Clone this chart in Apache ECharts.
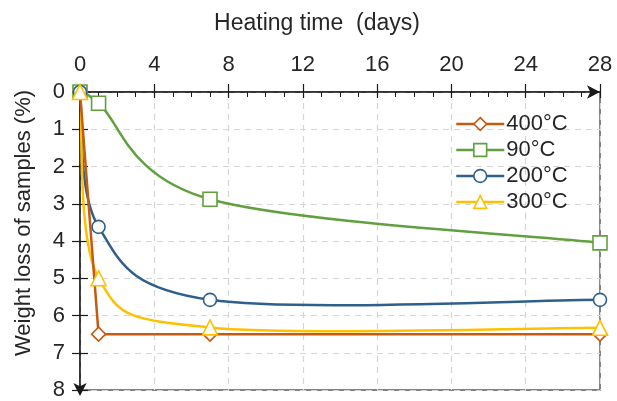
<!DOCTYPE html>
<html>
<head>
<meta charset="utf-8">
<script src="https://cdn.jsdelivr.net/npm/echarts@6/dist/echarts.min.js"></script>
<style>
  html, body { margin: 0; padding: 0; background: #fff; }
  #chart { width: 617px; height: 401px; }
</style>
</head>
<body>
<div id="chart"></div>
<script>
// Heating time (days) at which each sample was weighed
const days = [0, 1, 7, 28];
// Weight loss (%) for each heating temperature
const loss400 = [0, 6.5, 6.5, 6.5];
const loss90 = [0, 0.3, 2.88, 4.05];
const loss200 = [0, 3.62, 5.58, 5.58];
const loss300 = [0, 5.0, 6.32, 6.33];
const seriesNames = ['400°C', '90°C', '200°C', '300°C'];
const xTicks = { min: 0, max: 28, interval: 4 };
const yTicks = { min: 0, max: 8, interval: 1 };

const font = 'Liberation Sans, Arial, sans-serif';
const textColor = '#262626';
const axisColor = '#1a1a1a';
const gridColor = '#d6d6d6';

const colors = ['#c55a11', '#62a03f', '#2f5f8c', '#ffc000'];
const symbols = ['diamond', 'rect', 'circle', 'triangle'];
const sizes = [14, 14, 13, 15];

const pairs = (ys) => days.map((d, i) => [d, ys[i]]);

// Marker-only series (the line itself is drawn straight for 400°C,
// and by the spline series below for the other temperatures)
function markerSeries(idx, ys, straight) {
  return {
    name: seriesNames[idx],
    type: 'line',
    data: pairs(ys),
    smooth: false,
    symbol: symbols[idx],
    symbolSize: sizes[idx],
    showAllSymbol: true,
    lineStyle: { color: colors[idx], width: 2.5, opacity: straight ? 1 : 0 },
    itemStyle: { color: '#fff', borderColor: colors[idx], borderWidth: 1.6 },
    emphasis: { disabled: true },
    z: 4
  };
}

// Cardinal spline through the points: each segment is a cubic Bezier whose
// control points follow the neighbouring chord (P[i+1] - P[i-1]) / 6.
function splineSeries(idx, ys) {
  const pts = pairs(ys);
  return {
    name: seriesNames[idx],
    type: 'custom',
    coordinateSystem: 'cartesian2d',
    clip: true,
    data: pts,
    z: 3,
    silent: true,
    renderItem: function (params, api) {
      const i = params.dataIndex;
      if (i >= pts.length - 1) return null;
      const c = pts.map((p) => api.coord(p));
      const p0 = c[Math.max(i - 1, 0)];
      const p1 = c[i];
      const p2 = c[i + 1];
      const p3 = c[Math.min(i + 2, c.length - 1)];
      return {
        type: 'bezierCurve',
        shape: {
          x1: p1[0], y1: p1[1],
          x2: p2[0], y2: p2[1],
          cpx1: p1[0] + (p2[0] - p0[0]) / 6, cpy1: p1[1] + (p2[1] - p0[1]) / 6,
          cpx2: p2[0] - (p3[0] - p1[0]) / 6, cpy2: p2[1] - (p3[1] - p1[1]) / 6
        },
        style: { stroke: colors[idx], lineWidth: 2.5, fill: null }
      };
    }
  };
}

const legendData = seriesNames.map((n, i) => ({
  name: n,
  lineStyle: { color: colors[i], width: 2.5, opacity: 1 },
  itemStyle: { color: '#fff', borderColor: colors[i], borderWidth: 1.6 }
}));

const chart = echarts.init(document.getElementById('chart'), null, { renderer: 'canvas' });
chart.setOption({
  animation: false,
  backgroundColor: '#fff',
  title: {
    text: 'Heating time  (days)',
    left: 312, top: 7, textAlign: 'center',
    textStyle: { fontFamily: font, fontSize: 23, fontWeight: 'normal', color: textColor }
  },
  legend: {
    data: legendData,
    orient: 'vertical',
    left: 450, top: 108,
    itemWidth: 48, itemHeight: 16, itemGap: 4,
    textStyle: { fontFamily: font, fontSize: 22, color: textColor, padding: [0, 0, 0, -3] }
  },
  graphic: [{
    type: 'text',
    x: 24, y: 223,
    rotation: Math.PI / 2,
    style: {
      text: 'Weight loss of samples (%)',
      font: '22px ' + font,
      fill: textColor,
      textAlign: 'center',
      textVerticalAlign: 'middle'
    }
  }],
  grid: {
    left: 80, right: 17, top: 92, bottom: 6,
    show: true, borderColor: '#595959', borderWidth: 1.5, backgroundColor: 'transparent'
  },
  xAxis: [
    {
      type: 'value', position: 'top', min: xTicks.min, max: xTicks.max, interval: xTicks.interval,
      axisLine: { lineStyle: { color: axisColor, width: 1.5 }, symbol: ['none', 'arrow'], symbolSize: [10, 13], symbolOffset: [0, 0] },
      axisTick: { inside: true, length: 6, lineStyle: { color: axisColor, width: 1.2 } },
      minorTick: { show: true, splitNumber: 4, length: 5, lineStyle: { color: axisColor, width: 1 } },
      axisLabel: { fontFamily: font, fontSize: 22, color: textColor, margin: 16 },
      splitLine: { show: true, lineStyle: { color: gridColor, type: [6, 5], width: 1.2 } }
    },
    {
      type: 'value', position: 'top', min: xTicks.min, max: xTicks.max, interval: xTicks.interval,
      axisLine: { show: false },
      axisTick: { inside: false, length: 8, lineStyle: { color: axisColor, width: 1.2 } },
      axisLabel: { show: false }, splitLine: { show: false }
    }
  ],
  yAxis: [
    {
      type: 'value', inverse: true, min: yTicks.min, max: yTicks.max, interval: yTicks.interval,
      axisLine: { lineStyle: { color: axisColor, width: 1.5 }, symbol: ['arrow', 'none'], symbolSize: [10, 13], symbolOffset: [-6, 0] },
      axisTick: { inside: true, length: 8, lineStyle: { color: axisColor, width: 1.2 } },
      axisLabel: { fontFamily: font, fontSize: 22, color: textColor, margin: 15 },
      splitLine: { show: true, lineStyle: { color: gridColor, type: [6, 5], width: 1.2 } }
    },
    {
      type: 'value', inverse: true, position: 'left', min: yTicks.min, max: yTicks.max, interval: yTicks.interval,
      axisLine: { show: false },
      axisTick: { inside: false, length: 8, lineStyle: { color: axisColor, width: 1.2 } },
      axisLabel: { show: false }, splitLine: { show: false }
    }
  ],
  series: [
    markerSeries(0, loss400, true),
    markerSeries(1, loss90, false),
    markerSeries(2, loss200, false),
    markerSeries(3, loss300, false),
    splineSeries(1, loss90),
    splineSeries(2, loss200),
    splineSeries(3, loss300)
  ]
});
</script>
</body>
</html>
